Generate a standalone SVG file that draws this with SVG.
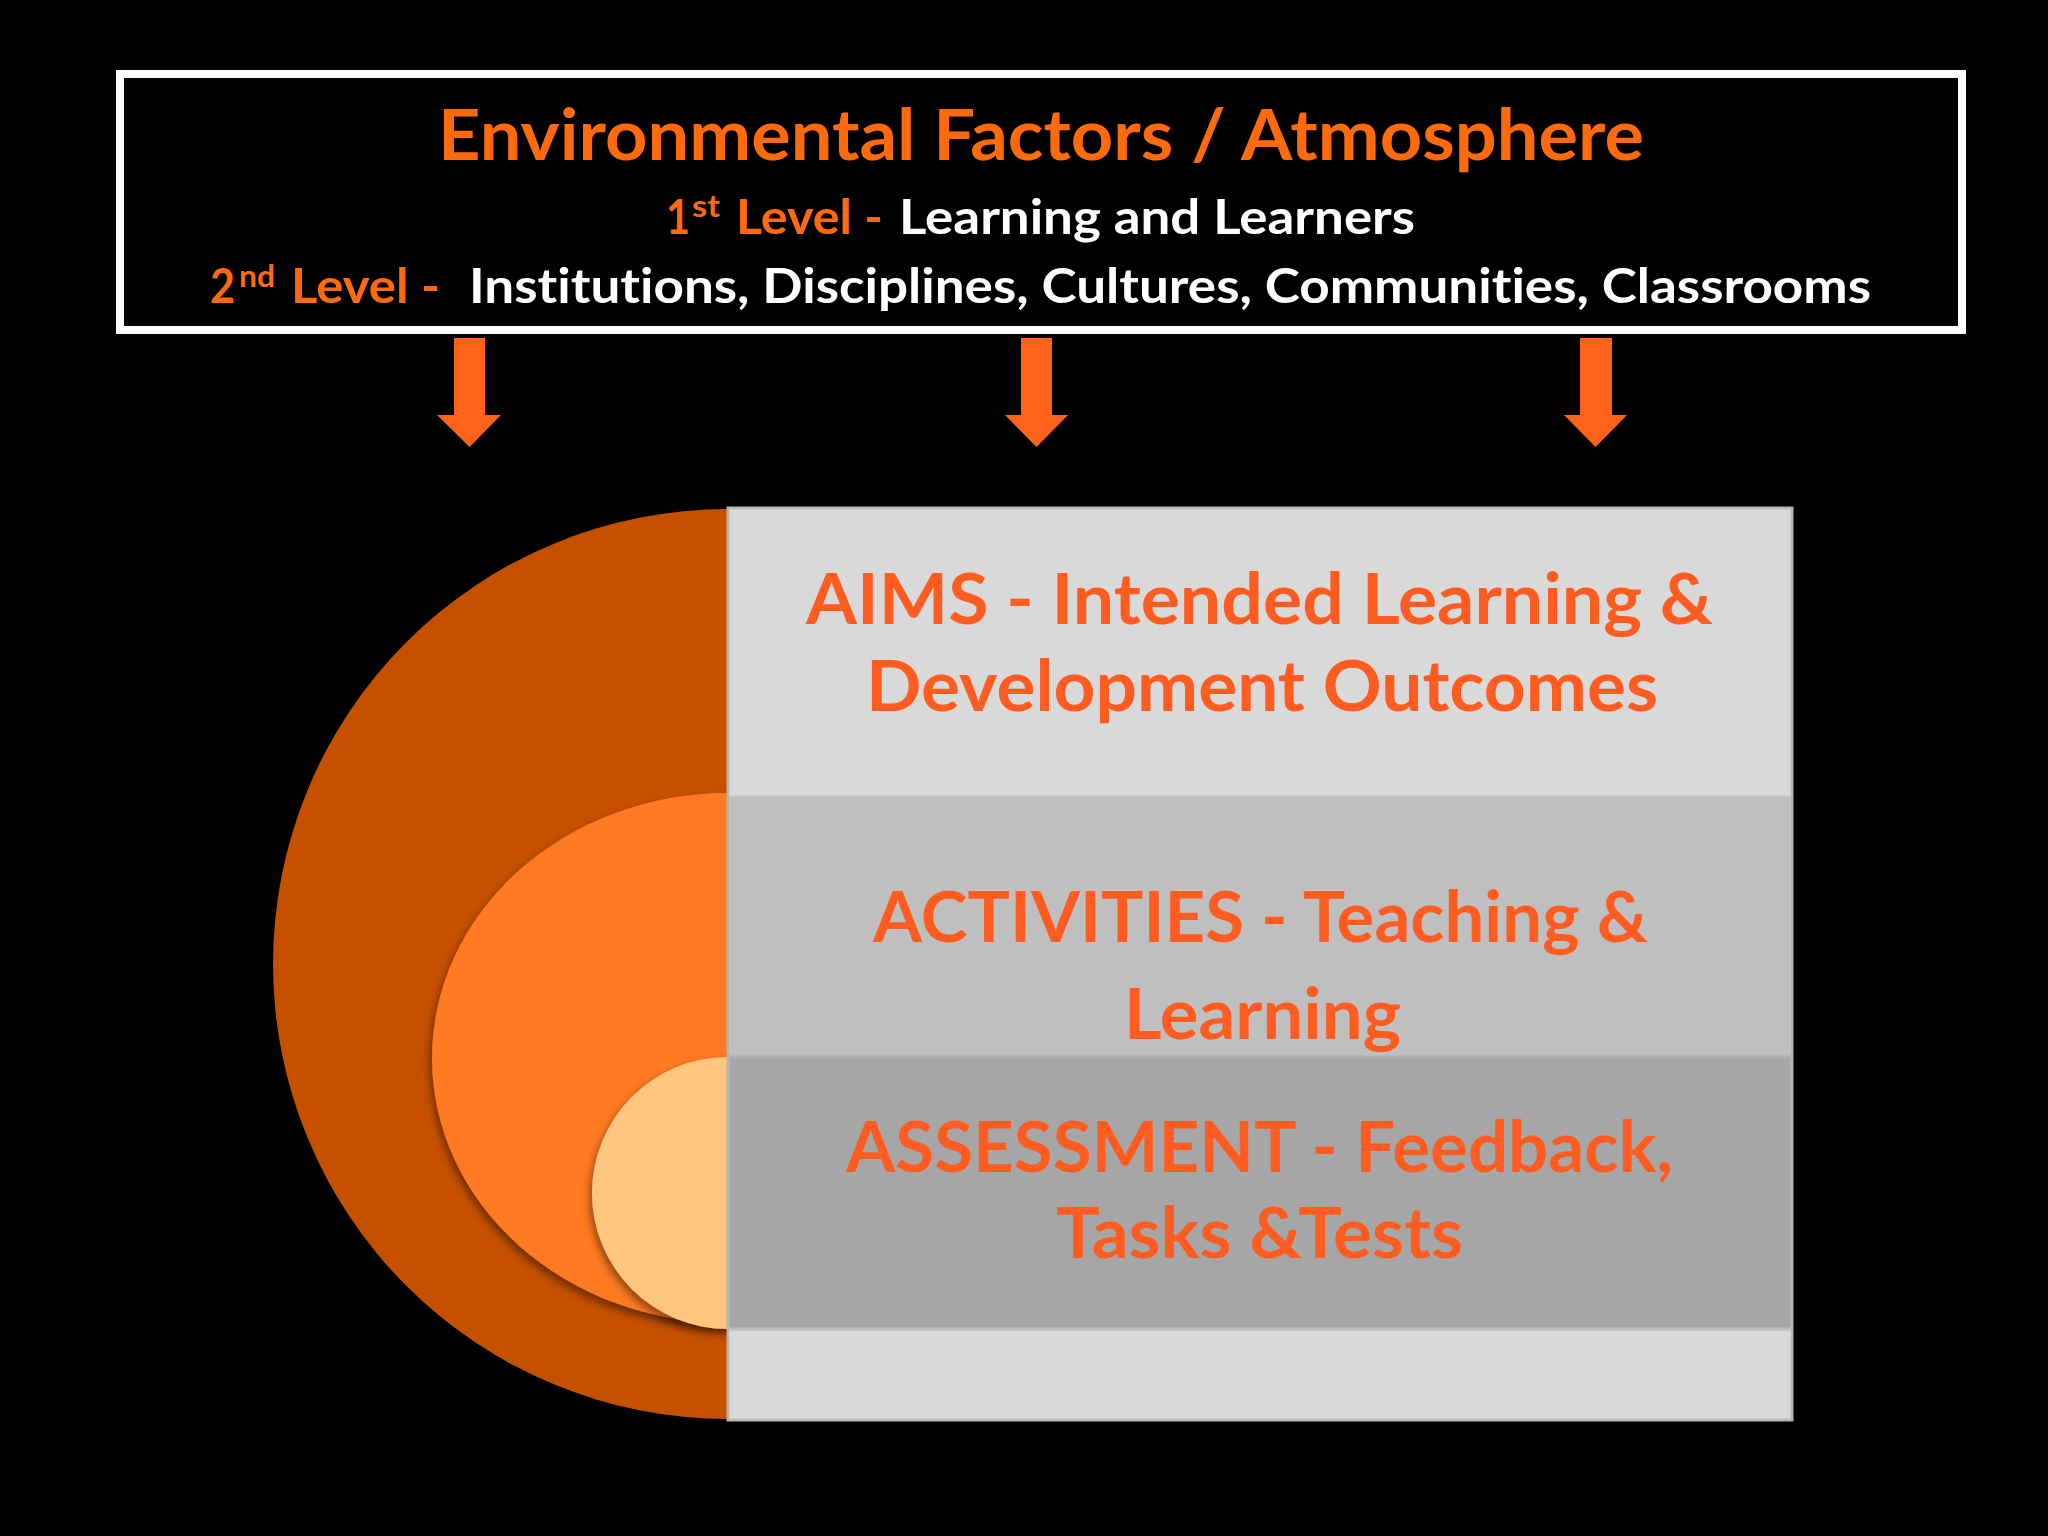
<svg xmlns="http://www.w3.org/2000/svg" width="2048" height="1536" viewBox="0 0 2048 1536">
  <defs>
    <style>
      .t { font-family: Lato, "Open Sans", "Liberation Sans", sans-serif; font-weight: bold; font-variant-ligatures: none; font-feature-settings: "liga" 0, "clig" 0; }
      .or { fill: #FF6A0D; }
      .wh { fill: #FFFFFF; }
      .bx { fill: #FF5C22; font-size: 71px; text-anchor: start; }
      .arrow { fill: #FF6319; }
    </style>
    <filter id="sh" x="-20%" y="-20%" width="140%" height="140%">
      <feDropShadow dx="-2" dy="5" stdDeviation="4" flood-color="#000" flood-opacity="0.45"/>
    </filter>
  </defs>
  <rect x="0" y="0" width="2048" height="1536" fill="#000000"/>

  <g id="header">
    <rect x="120" y="74" width="1842" height="256" fill="#000" stroke="#FFFFFF" stroke-width="8"/>
    <text class="t or" x="438" y="160" font-size="70" textLength="1206" lengthAdjust="spacingAndGlyphs">Environmental Factors / Atmosphere</text>
    <text class="t or" x="666" y="234" font-size="48" textLength="24" lengthAdjust="spacingAndGlyphs">1</text>
    <text class="t or" x="692" y="217" font-size="31" textLength="28" lengthAdjust="spacingAndGlyphs">st</text>
    <text class="t or" x="736" y="234" font-size="48" textLength="147" lengthAdjust="spacingAndGlyphs">Level -</text>
    <text class="t wh" x="899" y="234" font-size="48" textLength="516" lengthAdjust="spacingAndGlyphs">Learning and Learners</text>
    <text class="t or" x="210" y="303" font-size="48" textLength="25" lengthAdjust="spacingAndGlyphs">2</text>
    <text class="t or" x="239" y="287" font-size="31" textLength="36" lengthAdjust="spacingAndGlyphs">nd</text>
    <text class="t or" x="291" y="303" font-size="48" textLength="149" lengthAdjust="spacingAndGlyphs">Level -</text>
    <text class="t wh" x="469" y="303" font-size="48" textLength="1402" lengthAdjust="spacingAndGlyphs">Institutions, Disciplines, Cultures, Communities, Classrooms</text>
  </g>

  <g id="connectors">
    <polygon class="arrow" points="454,338 485,338 485,415 501,415 469.5,447 437,415 454,415"/>
    <polygon class="arrow" points="1021,338 1052,338 1052,415 1068,415 1036.5,447 1005,415 1021,415"/>
    <polygon class="arrow" points="1580,338 1612,338 1612,415 1627,415 1595.5,447 1564,415 1580,415"/>
  </g>

  <g id="outer-ring">
    <ellipse cx="728" cy="964" rx="455" ry="455" fill="#C55000"/>
  </g>
  <g id="middle-ring">
    <ellipse cx="728" cy="1058" rx="296" ry="265" fill="#FF7A21" filter="url(#sh)"/>
  </g>
  <g id="inner-ring">
    <ellipse cx="728" cy="1193" rx="136" ry="136" fill="#FFC680" filter="url(#sh)"/>
  </g>

  <g id="panel">
    <rect x="728" y="508" width="1064" height="912" fill="#D9D9D9" stroke="#B4B4B4" stroke-width="3"/>
    <rect x="729.5" y="1329" width="1061" height="89.5" fill="#D9D9D9"/>
  </g>

  <g id="aims">
    <rect x="729.5" y="509.5" width="1061" height="287" fill="#D9D9D9"/>
    <text class="t bx" x="806" y="624" textLength="907" lengthAdjust="spacingAndGlyphs">AIMS - Intended Learning &amp;</text>
    <text class="t bx" x="866" y="711" textLength="792" lengthAdjust="spacingAndGlyphs">Development Outcomes</text>
  </g>

  <g id="activities">
    <rect x="729.5" y="796" width="1061" height="261" fill="#BFBFBF"/>
    <line x1="729.5" y1="796" x2="1790.5" y2="796" stroke="#C8C8C8" stroke-width="2"/>
    <text class="t bx" x="873" y="942" textLength="775" lengthAdjust="spacingAndGlyphs">ACTIVITIES - Teaching &amp;</text>
    <text class="t bx" x="1124" y="1039" textLength="277" lengthAdjust="spacingAndGlyphs">Learning</text>
  </g>

  <g id="assessment">
    <rect x="729.5" y="1057" width="1061" height="272" fill="#A6A6A6"/>
    <line x1="729.5" y1="1057" x2="1790.5" y2="1057" stroke="#B0B0B0" stroke-width="3"/>
    <line x1="729.5" y1="1329" x2="1790.5" y2="1329" stroke="#BDBDBD" stroke-width="3"/>
    <text class="t bx" x="846" y="1172" textLength="827" lengthAdjust="spacingAndGlyphs">ASSESSMENT - Feedback,</text>
    <text class="t bx" x="1056" y="1258" textLength="407" lengthAdjust="spacingAndGlyphs">Tasks &amp;Tests</text>
  </g>
</svg>
